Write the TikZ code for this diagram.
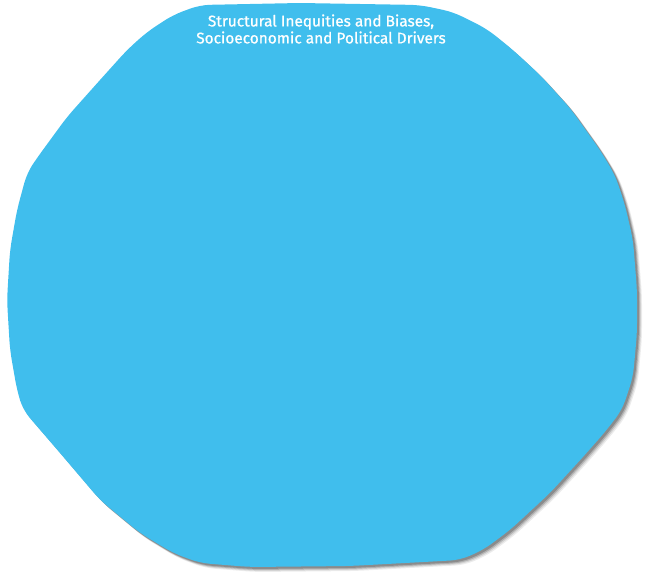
\documentclass[tikz,border=0pt]{standalone}
\usepackage{fontspec}
\setmainfont{Fira Sans}
\newfontfamily\titlefont{Fira Sans}[FakeBold=0.8]
\definecolor{blobblue}{RGB}{64,190,237}
\definecolor{shadowgray}{RGB}{70,70,70}
\begin{document}
\begin{tikzpicture}[x=1pt,y=-1pt,
  blob/.style={fill=blobblue, draw=none},
  titletext/.style={text=white, font=\titlefont\fontsize{15.4}{17}\selectfont, align=center, inner sep=0pt}]
\useasboundingbox (0,0) rectangle (650,578);
\def\blobpath{[rounded corners=10pt] (200,5) -- (300,3) -- (420,5) -- (453,12) -- (487,29) -- (513,50)
 -- (540,75) -- (570,108) -- (600,150) -- (615,175)
 -- (625,205) -- (633,240) -- (637,290) -- (637,333) -- (633,377) -- (622,410) -- (605,432) -- (583,457) -- (550,493)
 -- (510,530) -- (483,550) -- (460,560) -- (350,566) -- (250,567) -- (200,563) -- (173,553) -- (140,533) -- (100,500)
 -- (60,453) -- (23,410) -- (17,390) -- (10,350) -- (7,300) -- (10,250) -- (17,210) -- (27,173) -- (37,158) -- (67,117)
 -- (100,80) -- (127,50) -- (147,32) -- (173,15) -- cycle}
\foreach \o/\op in {5/0.10,4/0.15,3/0.25,2/0.35} {
  \fill[shadowgray, opacity=\op, shift={(\o,\o)}] \blobpath;
}
\fill[blob] \blobpath;
\node[titletext] (title) at (321,29) {Structural Inequities and Biases,\\Socioeconomic and Political Drivers};
\end{tikzpicture}
\end{document}
